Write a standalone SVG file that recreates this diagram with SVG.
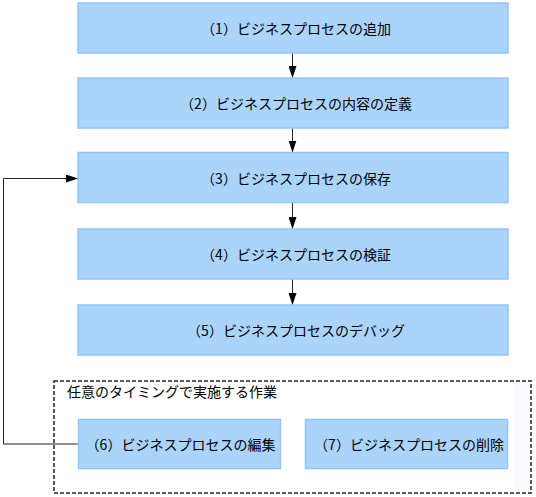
<svg xmlns="http://www.w3.org/2000/svg" width="536" height="497" viewBox="0 0 536 497">
<style>
.box{fill:#AAD4FC;stroke:#92C5F7;stroke-width:1.5}
.lbl{font-family:"Noto Sans CJK JP","Noto Sans",sans-serif;font-size:14px;fill:#000;text-anchor:middle;dominant-baseline:central}
.conn{fill:none;stroke:#222;stroke-width:1}
</style>
<defs>
<marker id="arr" viewBox="0 0 12 8" refX="12" refY="4" markerWidth="12" markerHeight="8" markerUnits="userSpaceOnUse" orient="auto">
<path d="M0,0 L12,4 L0,8 Z" fill="#000"/>
</marker>
</defs>
<rect x="513" y="382" width="17" height="110" fill="#F9FBFE"/>
<g id="group-adhoc">
<rect x="54" y="381" width="477" height="112" fill="none" stroke="#222" stroke-width="1.5" stroke-dasharray="4,2"/>
<text x="67" y="391" style="font-family:'Noto Sans CJK JP','Noto Sans',sans-serif;font-size:14px;fill:#000;dominant-baseline:central">任意のタイミングで実施する作業</text>
</g>
<g id="connectors">
<line class="conn" x1="292.5" y1="53" x2="292.5" y2="78" marker-end="url(#arr)"/>
<line class="conn" x1="292.5" y1="128" x2="292.5" y2="152.5" marker-end="url(#arr)"/>
<line class="conn" x1="292.5" y1="202.5" x2="292.5" y2="229" marker-end="url(#arr)"/>
<line class="conn" x1="292.5" y1="279" x2="292.5" y2="305" marker-end="url(#arr)"/>
<polyline class="conn" points="78,444 3.5,444 3.5,178.5 78,178.5" marker-end="url(#arr)"/>
</g>
<g id="node1"><rect class="box" x="78" y="3" width="430" height="50"/><text class="lbl" x="296" y="28">（1）ビジネスプロセスの追加</text></g>
<g id="node2"><rect class="box" x="78" y="78" width="430" height="50"/><text class="lbl" x="296" y="103">（2）ビジネスプロセスの内容の定義</text></g>
<g id="node3"><rect class="box" x="78" y="152.5" width="430" height="50"/><text class="lbl" x="296" y="177.5">（3）ビジネスプロセスの保存</text></g>
<g id="node4"><rect class="box" x="78" y="229" width="430" height="50"/><text class="lbl" x="296" y="254">（4）ビジネスプロセスの検証</text></g>
<g id="node5"><rect class="box" x="78" y="305" width="430" height="50"/><text class="lbl" x="296" y="330">（5）ビジネスプロセスのデバッグ</text></g>
<g id="node6"><rect class="box" x="78.5" y="419.5" width="202" height="49"/><text class="lbl" x="180.5" y="444">（6）ビジネスプロセスの編集</text></g>
<g id="node7"><rect class="box" x="305.5" y="419.5" width="202" height="49"/><text class="lbl" x="409" y="444">（7）ビジネスプロセスの削除</text></g>
</svg>
